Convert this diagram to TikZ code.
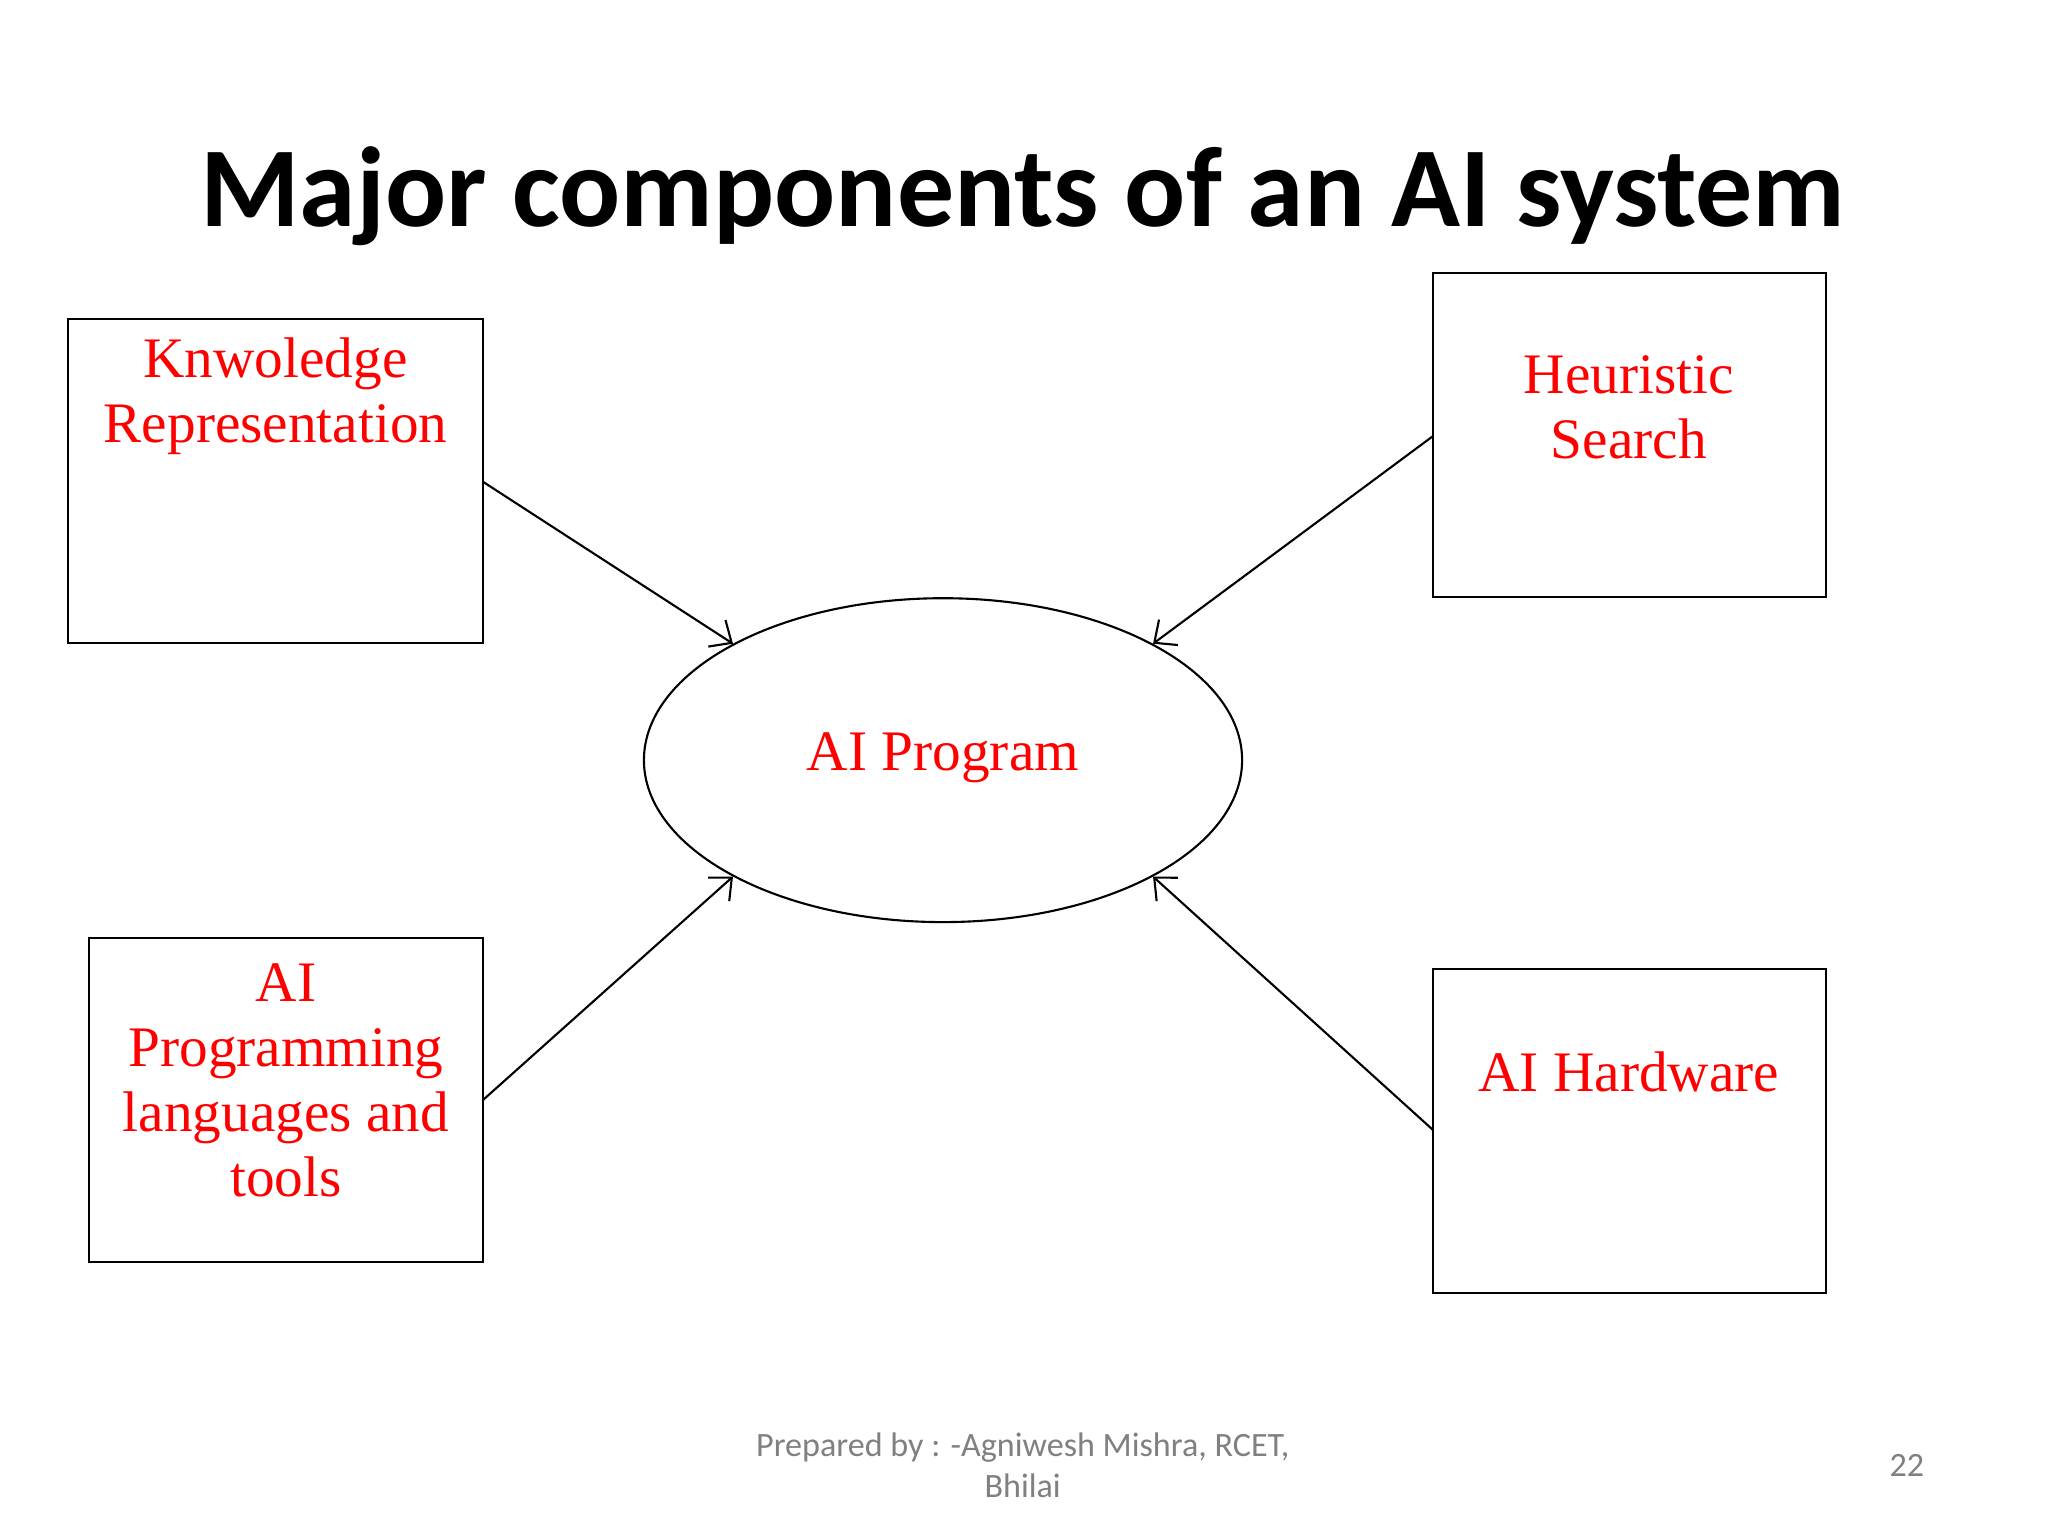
\documentclass[tikz,border=0pt]{standalone}
\usepackage{fontspec}
\setmainfont{Liberation Serif}
\newfontfamily\calib{Carlito}
\usetikzlibrary{shapes.geometric,arrows.meta}
\begin{document}
\begin{tikzpicture}[x=0.013061cm,y=-0.013061cm,
  box/.style={draw,line width=0.6pt},
  lbl/.style={text=red,font=\fontsize{16.3}{18.5}\selectfont,align=center},
  arr/.style={-{Straight Barb[length=5pt,width=9pt]},line width=0.6pt}]
\useasboundingbox (0,0) rectangle (1568,1176);
\node[font=\calib\bfseries\fontsize{32.4}{38}\selectfont] (title) at (783,150) {Major components of an AI system};
\draw[box] (52,244) rectangle (370,492);
\coordinate (kr) at (370,369);
\node[lbl] (krt) at (211,303) {Knwoledge\\Representation};
\draw[box] (1097,209) rectangle (1398,457);
\coordinate (hs) at (1097,334);
\node[lbl] (hst) at (1247,312) {Heuristic\\Search};
\draw[box] (68,718) rectangle (370,966);
\coordinate (pl) at (370,842);
\node[lbl] (plt) at (219,827) {AI\\Programming\\languages and\\tools};
\draw[box] (1097,742) rectangle (1398,990);
\coordinate (hw) at (1097,865);
\node[lbl] (hwt) at (1247,821) {AI Hardware};
\node[draw,ellipse,line width=0.6pt,inner sep=0pt,
  minimum width=5.982cm,minimum height=3.239cm] (ell) at (722,582) {};
\node[lbl] (ellt) at (722,580) {AI Program};
\draw[arr] (kr) -- (ell.151);
\draw[arr] (hs) -- (ell.29);
\draw[arr] (pl) -- (ell.-151);
\draw[arr] (hw) -- (ell.-29);
\node[font=\calib\fontsize{9.7}{11.8}\selectfont,text=gray,align=center] (foot) at (783,1122) {Prepared by : -Agniwesh Mishra, RCET,\\Bhilai};
\node[font=\calib\fontsize{9.7}{11}\selectfont,text=gray] (pg) at (1460,1122) {22};
\end{tikzpicture}
\end{document}
